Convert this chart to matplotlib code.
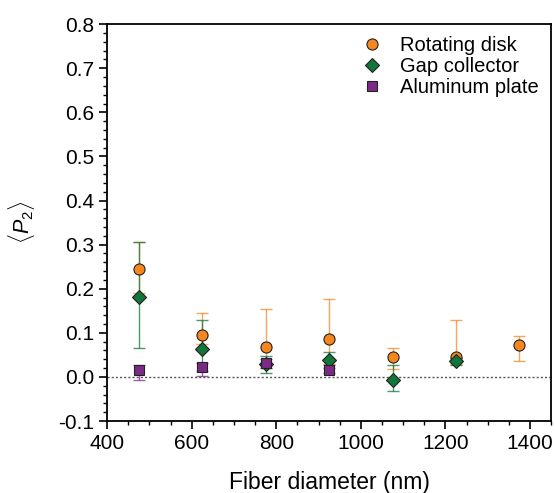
import matplotlib
matplotlib.use("Agg")
import matplotlib.pyplot as plt
from matplotlib.ticker import MultipleLocator, FormatStrFormatter

plt.rcParams["font.family"] = ["Liberation Sans", "DejaVu Sans"]
plt.rcParams["mathtext.fontset"] = "custom"
plt.rcParams["mathtext.rm"] = "Liberation Sans"
plt.rcParams["mathtext.it"] = "Liberation Sans:italic"

# данные
diam_disk = [475, 625, 775, 925, 1075, 1225, 1375]
p2_disk = [0.245, 0.094, 0.067, 0.085, 0.045, 0.045, 0.072]
err_disk_lo = [0.055, 0.020, 0.047, 0.056, 0.026, 0.015, 0.036]
err_disk_hi = [0.060, 0.052, 0.087, 0.092, 0.021, 0.085, 0.020]

diam_gap = [475, 625, 775, 925, 1075, 1225]
p2_gap = [0.182, 0.064, 0.030, 0.039, -0.007, 0.035]
err_gap_lo = [0.116, 0.050, 0.020, 0.018, 0.025, 0.008]
err_gap_hi = [0.125, 0.064, 0.018, 0.018, 0.034, 0.008]

diam_al = [475, 625, 775, 925]
p2_al = [0.016, 0.022, 0.031, 0.016]
err_al_lo = [0.023, 0.020, 0.010, 0.008]
err_al_hi = [0.010, 0.010, 0.010, 0.010]

ORANGE = "#F7861E"
GREEN = "#12763A"
PURPLE = "#7B2A86"

fig = plt.figure(figsize=(5.55, 4.93), dpi=100)
ax = fig.add_axes([0.193, 0.146, 0.800, 0.805])

ax.axhline(0, color="#555555", linestyle=(0, (1.5, 1.5)), linewidth=1.0, zorder=1)

series = [
    (diam_disk, p2_disk, err_disk_lo, err_disk_hi, "o", ORANGE, 8, "Rotating disk"),
    (diam_gap, p2_gap, err_gap_lo, err_gap_hi, "D", GREEN, 7, "Gap collector"),
    (diam_al, p2_al, err_al_lo, err_al_hi, "s", PURPLE, 7, "Aluminum plate"),
]
handles = []
for xs, ys, lo, hi, mk, col, ms, lab in series:
    ax.errorbar(xs, ys, yerr=[lo, hi], fmt="none", ecolor=col, alpha=0.75,
                elinewidth=1.0, capsize=4.5, capthick=1.0, zorder=2)
    h, = ax.plot(xs, ys, linestyle="none", marker=mk, markersize=ms,
                 markerfacecolor=col, markeredgecolor="#222222",
                 markeredgewidth=0.8, label=lab, zorder=3)
    handles.append(h)

ax.set_xlim(400, 1450)
ax.set_ylim(-0.1, 0.8)
ax.xaxis.set_major_locator(MultipleLocator(200))
ax.xaxis.set_minor_locator(MultipleLocator(50))
ax.yaxis.set_major_locator(MultipleLocator(0.1))
ax.yaxis.set_minor_locator(MultipleLocator(0.02))
ax.yaxis.set_major_formatter(FormatStrFormatter("%.1f"))
ax.tick_params(which="major", direction="out", length=6, width=1.2, labelsize=15,
               top=False, right=False)
ax.tick_params(which="minor", direction="out", length=3, width=1.0,
               top=False, right=False)
for sp in ax.spines.values():
    sp.set_linewidth(1.3)

ax.set_xlabel("Fiber diameter (nm)", fontsize=16.5, labelpad=13)
ax.set_ylabel(r"$\langle P_2 \rangle$", fontsize=15.5, labelpad=15)

ax.legend(handles=handles, loc="upper right", frameon=False, fontsize=14.5,
          handletextpad=0.8, borderaxespad=0.2, labelspacing=0.1,
          handlelength=1.2)

fig.savefig("out.png", dpi=100)
